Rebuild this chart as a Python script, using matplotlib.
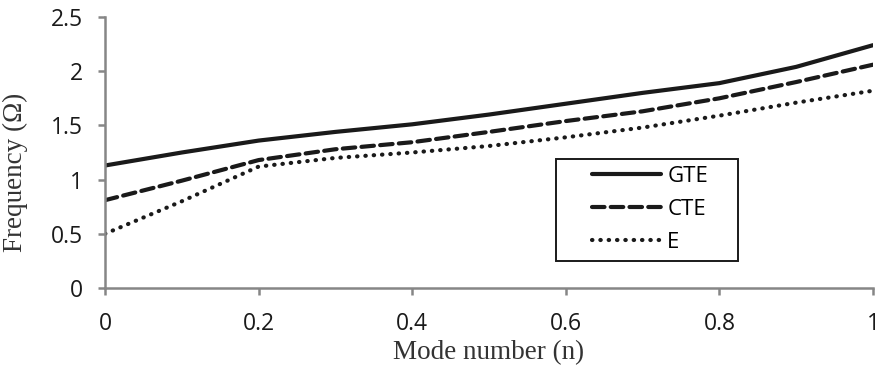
import matplotlib
matplotlib.use("Agg")
import matplotlib.pyplot as plt
from matplotlib.patches import Rectangle

# --- Data ---
mode_number = [0.0, 0.1, 0.2, 0.3, 0.4, 0.5, 0.6, 0.7, 0.8, 0.9, 1.0]
gte = [1.13, 1.25, 1.36, 1.44, 1.51, 1.60, 1.70, 1.80, 1.89, 2.04, 2.24]
cte = [0.81, 0.99, 1.18, 1.28, 1.345, 1.44, 1.54, 1.63, 1.75, 1.90, 2.06]
e_only = [0.50, 0.80, 1.12, 1.20, 1.25, 1.31, 1.39, 1.48, 1.59, 1.71, 1.82]

x_ticks = [0, 0.2, 0.4, 0.6, 0.8, 1]
y_ticks = [0, 0.5, 1, 1.5, 2, 2.5]

AXIS_GREY = "#868686"
LINE_COL = "#1a1a1a"
W, H = 879, 376

fig = plt.figure(figsize=(W / 100, H / 100), dpi=100)
ax = fig.add_axes([105 / W, 1 - 288 / H, 768 / W, 271 / H])

ax.plot(mode_number, gte, color=LINE_COL, lw=3.0, linestyle="-", label="GTE",
        solid_capstyle="round", solid_joinstyle="round")
ax.plot(mode_number, cte, color=LINE_COL, lw=3.0, linestyle=(0, (3.0, 1.5)),
        label="CTE", dash_capstyle="round", dash_joinstyle="round")
ax.plot(mode_number, e_only, color=LINE_COL, lw=3.0, linestyle=(0, (0.1, 1.9)),
        label="E", dash_capstyle="round")

ax.set_xlim(0, 1)
ax.set_ylim(0, 2.5)
ax.set_xticks(x_ticks)
ax.set_xticklabels(["0", "0.2", "0.4", "0.6", "0.8", "1"])
ax.set_yticks(y_ticks)
ax.set_yticklabels(["0", "0.5", "1", "1.5", "2", "2.5"])

for side in ["top", "right"]:
    ax.spines[side].set_visible(False)
for side in ["left", "bottom"]:
    ax.spines[side].set_color(AXIS_GREY)
    ax.spines[side].set_linewidth(1.8)

ax.tick_params(axis="both", direction="out", length=5, width=1.8,
               color=AXIS_GREY, labelsize=16.5, labelcolor="#1a1a1a")
ax.tick_params(axis="x", pad=12)
ax.tick_params(axis="y", pad=11)
for lbl in ax.get_xticklabels() + ax.get_yticklabels():
    lbl.set_family("Open Sans")

ax.set_xlabel("Mode number (n)", family="Liberation Serif", fontsize=19.5,
              color="#333333", labelpad=3)
ax.set_ylabel("Frequency (Ω)", family="Liberation Serif", fontsize=19.5,
              color="#333333")
ax.yaxis.set_label_coords(-0.1, 0.428)

# legend box drawn separately so the padding around the entries matches
box = Rectangle(((556 - 105) / 768, (288 - 261) / 271), 182 / 768, 102 / 271,
                transform=ax.transAxes, fill=True, facecolor="white",
                edgecolor=LINE_COL, linewidth=1.4, zorder=4)
ax.add_patch(box)
leg = ax.legend(loc="upper left", bbox_to_anchor=((585 - 105) / 768, (288 - 159) / 271),
                frameon=False, handlelength=3.1, handletextpad=0.3,
                borderpad=0.3, labelspacing=0.55, borderaxespad=0,
                prop={"family": "Open Sans", "size": 16})
leg.set_zorder(5)

fig.savefig("out.png", dpi=100)
